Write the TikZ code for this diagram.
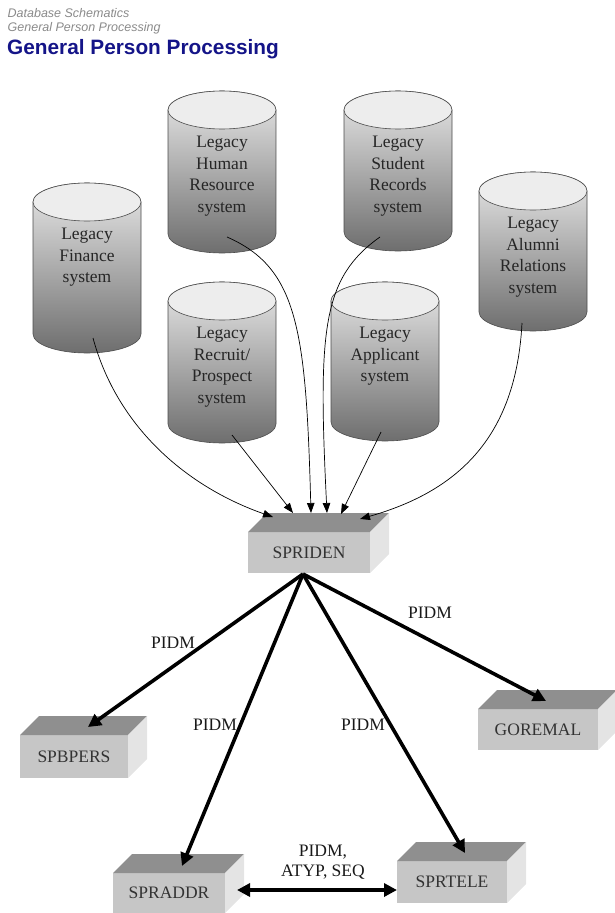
\documentclass[tikz,border=0pt]{standalone}
\usepackage{fontspec}
\setmainfont{Liberation Serif}
\newfontfamily\hdrfont{Liberation Sans}
\usetikzlibrary{arrows.meta,calc}
\definecolor{navy}{HTML}{141488}
\definecolor{hdrgray}{HTML}{8A8A8A}
\definecolor{frontc}{HTML}{C6C6C6}
\definecolor{topc}{HTML}{8F8F8F}
\definecolor{sidec}{HTML}{E4E4E4}
\definecolor{cyllight}{HTML}{E8E8E8}
\definecolor{cyldark}{HTML}{6E6E6E}
\definecolor{cyltopc}{HTML}{EDEDED}

\newcommand\legacycyl[5]{% name, x, y, height, text
  \begin{scope}[shift={(#2,#3)}]
    \path[cylbody] (0,19) -- (0,#4-19)
      arc[start angle=180,end angle=360,x radius=54pt,y radius=19pt]
      -- (108,19)
      arc[start angle=0,end angle=180,x radius=54pt,y radius=19pt] -- cycle;
    \draw[cyltop] (54,19) ellipse[x radius=54pt,y radius=19pt];
    \node[cyltext] (#1) at (54,45) {#5};
  \end{scope}
}
\newcommand\tribox[6]{% name, x, y, w, h, text
  \node[boxfront, minimum width=#4pt, minimum height=#5pt, anchor=north west] (#1) at (#2,#3) {#6};
  \fill[topc] (#1.north west) -- ++(19,-19) -- ++(#4,0) -- (#1.north east) -- cycle;
  \fill[sidec] (#1.north east) -- ++(19,-19) -- ++(0,#5) -- (#1.south east) -- cycle;
}

\begin{document}
\begin{tikzpicture}[x=1pt,y=-1pt,
  cylbody/.style={draw=black!70,line width=0.6pt,top color=cyllight,bottom color=cyldark,shading=axis},
  cyltop/.style={draw=black!70,line width=0.6pt,fill=cyltopc},
  cyltext/.style={anchor=north,align=center,text=black!85,font=\fontsize{17.5}{21.5}\selectfont,inner sep=0pt},
  boxfront/.style={fill=frontc,inner sep=0pt,outer sep=0pt,text=black!80,font=\fontsize{17.5}{21}\selectfont},
  feed/.style={line width=0.7pt,-{Triangle[length=10pt,width=7.5pt]}},
  rel/.style={line width=3.6pt,-{Triangle[length=13pt,width=13pt]}},
  lbl/.style={font=\fontsize{17.5}{20}\selectfont,text=black!90,inner sep=0pt,align=center}]
\useasboundingbox (0,0) rectangle (614,913);

% header
\node[anchor=base west,inner sep=0pt,text=hdrgray,font=\hdrfont\itshape\fontsize{12.5}{14}\selectfont] (h1) at (7.5,17.5) {Database Schematics};
\node[anchor=base west,inner sep=0pt,text=hdrgray,font=\hdrfont\itshape\fontsize{12.5}{14}\selectfont] (h2) at (7.5,31) {General Person Processing};
\node[anchor=base west,inner sep=0pt,text=navy,font=\hdrfont\bfseries\fontsize{20.8}{24}\selectfont] (title) at (7,54.5) {General Person Processing};

% legacy systems
\legacycyl{hr}{168}{91}{162}{Legacy\\Human\\Resource\\system}
\legacycyl{stu}{344}{91}{160}{Legacy\\Student\\Records\\system}
\legacycyl{fin}{33}{183}{170}{Legacy\\Finance\\system}
\legacycyl{alu}{479}{172}{159}{Legacy\\Alumni\\Relations\\system}
\legacycyl{rec}{168}{282}{161}{Legacy\\Recruit/\\Prospect\\system}
\legacycyl{app}{331}{282}{159}{Legacy\\Applicant\\system}

% tables
\tribox{spriden}{248}{532}{122}{41}{SPRIDEN}
\tribox{spbpers}{20}{735}{108}{43}{SPBPERS}
\tribox{goremal}{478}{709}{120}{41}{GOREMAL}
\tribox{spraddr}{113}{873}{112}{40}{SPRADDR}
\tribox{sprtele}{397}{861}{110}{42}{SPRTELE}

% feed start points
\coordinate (finout) at (93,338);
\coordinate (recout) at (232,435);
\coordinate (hrout) at (227,237);
\coordinate (stuout) at (380,237);
\coordinate (appout) at (381,432);
\coordinate (aluout) at (522,323);
% feed end points on SPRIDEN
\coordinate (in1) at (273,517);
\coordinate (in2) at (293,513);
\coordinate (in3) at (311,513);
\coordinate (in4) at (327,513);
\coordinate (in5) at (341,514);
\coordinate (in6) at (360,519);

\draw[feed] (finout) .. controls (118,430) and (190,488) .. (in1);
\draw[feed] (recout) -- (in2);
\draw[feed] (hrout) .. controls (298,268) and (306,330) .. (in3);
\draw[feed] (stuout) .. controls (322,278) and (318,330) .. (in4);
\draw[feed] (appout) -- (in5);
\draw[feed] (aluout) .. controls (516,440) and (455,492) .. (in6);

% relations
\coordinate (hub) at (303,574);
\coordinate (t1) at (88,727);
\coordinate (t2) at (182,866);
\coordinate (t3) at (465,853);
\coordinate (t4) at (546,701);
\draw[rel] (hub) -- (t1);
\draw[rel] (hub) -- (t2);
\draw[rel] (hub) -- (t3);
\draw[rel] (hub) -- (t4);
\coordinate (dL) at ($(spraddr.east)+(12,-3)$);
\coordinate (dR) at ($(sprtele.west)+(0,8)$);
\draw[line width=3.6pt,{Triangle[length=13pt,width=13pt]}-{Triangle[length=13pt,width=13pt]}] (dL) -- (dR);

\node[lbl] (l1) at (173,643) {PIDM};
\node[lbl] (l2) at (215,725) {PIDM};
\node[lbl] (l3) at (363,725) {PIDM};
\node[lbl] (l4) at (430,613) {PIDM};
\node[lbl] (l5) at (323,862) {PIDM,\\ATYP, SEQ};
\end{tikzpicture}
\end{document}
